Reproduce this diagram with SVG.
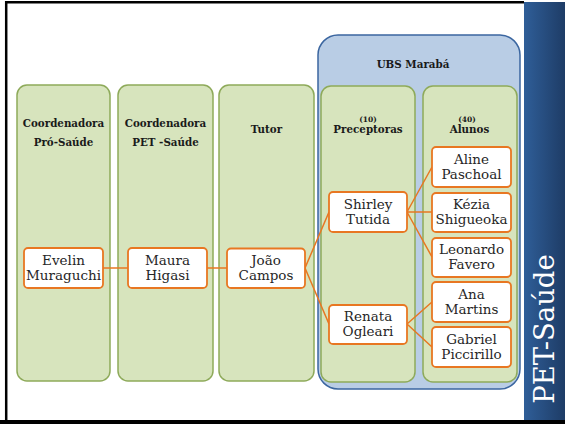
<svg xmlns="http://www.w3.org/2000/svg" width="565" height="424" viewBox="0 0 565 424">
<defs>
<linearGradient id="bar" x1="0" y1="0" x2="1" y2="0">
<stop offset="0" stop-color="#2f5e98"/>
<stop offset="1" stop-color="#1e3c66"/>
</linearGradient>
<style>
.col{fill:#d7e4bd;stroke:#8eaa5a;stroke-width:1.5}
.ubs{fill:#b9cde5;stroke:#3b66a0;stroke-width:1.5}
.box{fill:#ffffff;stroke:#e87722;stroke-width:1.8}
.hd{font-family:"DejaVu Serif","Liberation Serif",serif;font-weight:bold;font-size:10.3px;fill:#1a1a1a;text-anchor:middle}
.sm{font-family:"DejaVu Serif","Liberation Serif",serif;font-weight:bold;font-size:7.5px;fill:#1a1a1a;text-anchor:middle}
.nm{font-family:"DejaVu Serif","Liberation Serif",serif;font-size:13.5px;fill:#262626;text-anchor:middle}
.cn{fill:none;stroke:#e87722;stroke-width:1.5}
</style>
</defs>
<rect x="0" y="0" width="565" height="424" fill="#ffffff"/>
<rect x="524" y="2" width="41" height="419" fill="url(#bar)"/>
<path d="M524,2.2 H6.2 V421" fill="none" stroke="#000" stroke-width="2.5"/>
<rect x="0" y="420" width="565" height="4" fill="#000"/>
<text x="554" y="329" transform="rotate(-90 554 329)" font-family="DejaVu Serif,Liberation Serif,serif" font-size="27.5" fill="#ffffff" text-anchor="middle">PET-Saúde</text>

<g id="ubs">
<rect class="ubs" x="318" y="35" width="202" height="354" rx="20"/>
<text class="hd" x="413" y="68">UBS Marabá</text>
</g>
<g id="col-pro-saude">
<rect class="col" x="17" y="85" width="93" height="296" rx="10"/>
<text class="hd" x="63.5" y="127">Coordenadora</text>
<text class="hd" x="63.5" y="146">Pró-Saúde</text>
</g>
<g id="col-pet-saude">
<rect class="col" x="118" y="85" width="95" height="296" rx="10"/>
<text class="hd" x="165.5" y="127">Coordenadora</text>
<text class="hd" x="165.5" y="146">PET -Saúde</text>
</g>
<g id="col-tutor">
<rect class="col" x="219" y="85" width="95" height="296" rx="10"/>
<text class="hd" x="266.5" y="133">Tutor</text>
</g>
<g id="col-preceptoras">
<rect class="col" x="321" y="86" width="94" height="296" rx="10"/>
<text class="sm" x="368" y="122">(10)</text>
<text class="hd" x="368" y="133">Preceptoras</text>
</g>
<g id="col-alunos">
<rect class="col" x="423" y="86" width="94" height="296" rx="10"/>
<text class="sm" x="467" y="122">(40)</text>
<text class="hd" x="469.5" y="133">Alunos</text>
</g>

<g id="connectors">
<path class="cn" d="M103,268 H128"/>
<path class="cn" d="M207,268 H227"/>
<path class="cn" d="M305,268 L329,212 M305,268 L329,324"/>
<path class="cn" d="M407,212 L432,167 M407,212 H432 M407,212 L432,257"/>
<path class="cn" d="M407,324 L432,302 M407,324 L432,347"/>
</g>

<g id="evelin">
<rect class="box" x="24" y="248" width="79" height="40" rx="4"/>
<text class="nm" x="63.5" y="264.5">Evelin</text>
<text class="nm" x="63.5" y="279.5">Muraguchi</text>
</g>
<g id="maura">
<rect class="box" x="128" y="248" width="79" height="40" rx="4"/>
<text class="nm" x="167.5" y="264.5">Maura</text>
<text class="nm" x="167.5" y="279.5">Higasi</text>
</g>
<g id="joao">
<rect class="box" x="227" y="248.5" width="78" height="39.5" rx="4"/>
<text class="nm" x="266" y="264.5">João</text>
<text class="nm" x="266" y="279.5">Campos</text>
</g>
<g id="shirley">
<rect class="box" x="329" y="192" width="78" height="40" rx="4"/>
<text class="nm" x="368" y="208.5">Shirley</text>
<text class="nm" x="368" y="223.5">Tutida</text>
</g>
<g id="renata">
<rect class="box" x="329" y="305" width="78" height="39" rx="4"/>
<text class="nm" x="368" y="320.5">Renata</text>
<text class="nm" x="368" y="335.5">Ogleari</text>
</g>
<g id="aline">
<rect class="box" x="432" y="147" width="79" height="40" rx="4"/>
<text class="nm" x="471.5" y="163.5">Aline</text>
<text class="nm" x="471.5" y="178.5">Paschoal</text>
</g>
<g id="kezia">
<rect class="box" x="432" y="193" width="79" height="39" rx="4"/>
<text class="nm" x="471.5" y="208.5">Kézia</text>
<text class="nm" x="471.5" y="223.5">Shigueoka</text>
</g>
<g id="leonardo">
<rect class="box" x="432" y="238" width="79" height="39" rx="4"/>
<text class="nm" x="471.5" y="253.5">Leonardo</text>
<text class="nm" x="471.5" y="268.5">Favero</text>
</g>
<g id="ana">
<rect class="box" x="432" y="282" width="79" height="40" rx="4"/>
<text class="nm" x="471.5" y="298.5">Ana</text>
<text class="nm" x="471.5" y="313.5">Martins</text>
</g>
<g id="gabriel">
<rect class="box" x="432" y="327" width="79" height="40" rx="4"/>
<text class="nm" x="471.5" y="343.5">Gabriel</text>
<text class="nm" x="471.5" y="358.5">Piccirillo</text>
</g>
</svg>
